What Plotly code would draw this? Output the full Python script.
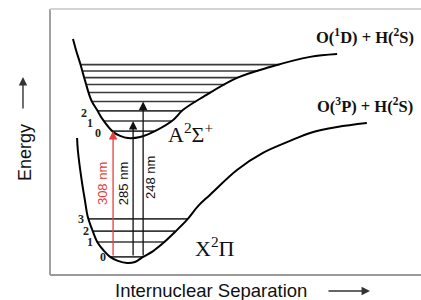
import numpy as np
import plotly.graph_objects as go

# ---- data (arbitrary units: separation 0-10, energy 0-10) ----
a_state_r = [0.62, 0.70, 0.81, 0.94, 1.11, 1.27, 1.43, 1.70, 1.89, 2.10, 2.43, 2.88, 3.32, 3.58, 4.12, 5.04, 5.93, 7.01, 7.74]
a_state_e = [8.87, 8.46, 7.97, 7.33, 6.58, 6.20, 5.83, 5.38, 5.23, 5.15, 5.19, 5.45, 5.83, 6.20, 6.69, 7.41, 7.82, 8.20, 8.31]

x_state_r = [0.73, 0.75, 0.86, 0.94, 1.02, 1.16, 1.29, 1.46, 1.62, 1.83, 2.08, 2.29, 2.51, 2.78, 3.05, 3.37, 3.69, 3.99, 4.31, 5.04, 5.74, 6.47, 7.01, 7.74, 8.54]
x_state_e = [5.15, 4.70, 3.50, 2.82, 2.18, 1.62, 1.20, 0.90, 0.68, 0.53, 0.45, 0.49, 0.68, 0.90, 1.20, 1.62, 2.07, 2.59, 3.01, 3.95, 4.59, 5.04, 5.34, 5.56, 5.71]

a_levels = [5.41, 5.79, 6.17, 6.52, 6.86, 7.16, 7.42, 7.67, 7.91]
x_levels = [0.68, 1.24, 1.65, 2.11]
a_level_labels = ["0", "1", "2"]
x_level_labels = ["0", "1", "2", "3"]

transition_labels = ["308 nm", "285 nm", "248 nm"]
transition_r = [1.70, 2.24, 2.51]
transition_upper_v = [0, 1, 3]
transition_colors = ["#e5403a", "#111111", "#111111"]

a_state_label = "A<sup>2</sup>Σ<sup>+</sup>"
x_state_label = "X<sup>2</sup>Π"
upper_limit_label = "<b>O(<sup>1</sup>D) + H(<sup>2</sup>S)</b>"
lower_limit_label = "<b>O(<sup>3</sup>P) + H(<sup>2</sup>S)</b>"


def branch_ends(r, e, level):
    r = np.asarray(r, float)
    e = np.asarray(e, float)
    i = int(np.argmin(e))
    left = np.interp(level, e[:i + 1][::-1], r[:i + 1][::-1])
    right = np.interp(level, e[i:], r[i:])
    return left, right


def level_segments(r, e, levels):
    xs, ys = [], []
    for lv in levels:
        l, rr = branch_ends(r, e, lv)
        xs += [l, rr, None]
        ys += [lv, lv, None]
    return xs, ys


fig = go.Figure()

ax_, ay_ = level_segments(a_state_r, a_state_e, a_levels)
fig.add_trace(go.Scatter(x=ax_, y=ay_, mode="lines", line=dict(color="#3a3a3a", width=1.6),
                         hoverinfo="skip", showlegend=False, cliponaxis=False))
xx_, xy_ = level_segments(x_state_r, x_state_e, x_levels)
fig.add_trace(go.Scatter(x=xx_, y=xy_, mode="lines", line=dict(color="#3a3a3a", width=1.6),
                         hoverinfo="skip", showlegend=False, cliponaxis=False))

fig.add_trace(go.Scatter(x=a_state_r, y=a_state_e, mode="lines", line=dict(color="black", width=2, shape="spline"),
                         hoverinfo="skip", showlegend=False, cliponaxis=False))
fig.add_trace(go.Scatter(x=x_state_r, y=x_state_e, mode="lines", line=dict(color="black", width=2, shape="spline"),
                         hoverinfo="skip", showlegend=False, cliponaxis=False))

annotations = []
# transition arrows
label_shift = [-11, -10, 8]
label_y = [3.42, 3.42, 3.65]
for lab, r, v, c, sh, ly in zip(transition_labels, transition_r, transition_upper_v, transition_colors, label_shift, label_y):
    annotations.append(dict(x=r, y=a_levels[v], ax=r, ay=x_levels[0], xref="x", yref="y", axref="x", ayref="y",
                            showarrow=True, arrowhead=2, arrowsize=1.3, arrowwidth=1.3, arrowcolor=c, text="",
                            standoff=0, startstandoff=0))
    annotations.append(dict(x=r, y=ly, xref="x", yref="y", text=lab, showarrow=False, textangle=-90,
                            xanchor="center", yanchor="middle",
                            xshift=sh, font=dict(family="Liberation Sans, Arial", size=13, color=c)))

# vibrational level labels
for lab, lv in zip(a_level_labels, a_levels):
    l, _ = branch_ends(a_state_r, a_state_e, lv)
    annotations.append(dict(x=l, y=lv, xref="x", yref="y", text="<b>" + lab + "</b>", showarrow=False,
                            xanchor="right", yanchor="middle", xshift=-9, yshift=-2,
                            font=dict(family="Liberation Serif", size=12, color="#222")))
for lab, lv in zip(x_level_labels, x_levels):
    l, _ = branch_ends(x_state_r, x_state_e, lv)
    annotations.append(dict(x=l, y=lv, xref="x", yref="y", text="<b>" + lab + "</b>", showarrow=False,
                            xanchor="right", yanchor="middle", xshift=-2,
                            font=dict(family="Liberation Serif", size=12, color="#222")))

# state labels
annotations.append(dict(x=3.13, y=5.35, xref="x", yref="y", text=a_state_label, showarrow=False, xanchor="left",
                        yanchor="middle", font=dict(family="Liberation Serif", size=22, color="#111")))
annotations.append(dict(x=3.85, y=1.05, xref="x", yref="y", text=x_state_label, showarrow=False, xanchor="left",
                        yanchor="middle", font=dict(family="Liberation Serif", size=22, color="#111")))
annotations.append(dict(x=8.50, y=8.95, xref="x", yref="y", text=upper_limit_label, showarrow=False,
                        xanchor="center", yanchor="middle",
                        font=dict(family="Liberation Serif", size=16.5, color="#111")))
annotations.append(dict(x=8.49, y=6.39, xref="x", yref="y", text=lower_limit_label, showarrow=False,
                        xanchor="center", yanchor="middle",
                        font=dict(family="Liberation Serif", size=16.5, color="#111")))

# axis titles with arrows
annotations.append(dict(x=-0.0674, y=0.462, xref="paper", yref="paper", text="Energy", textangle=-90,
                        xanchor="center", yanchor="middle",
                        showarrow=False, font=dict(family="Liberation Sans, Arial", size=18, color="#111")))
annotations.append(dict(x=-0.0728, y=0.744, xref="paper", yref="paper", text="", showarrow=True,
                        ax=0, ay=33, arrowhead=2, arrowsize=1.2, arrowwidth=1.4, arrowcolor="#333"))
annotations.append(dict(x=0.434, y=-0.058, xref="paper", yref="paper", text="Internuclear Separation",
                        xanchor="center", yanchor="middle",
                        showarrow=False, font=dict(family="Liberation Sans, Arial", size=18.5, color="#111")))
annotations.append(dict(x=0.8625, y=-0.060, xref="paper", yref="paper", text="", showarrow=True,
                        ax=-43, ay=0, arrowhead=2, arrowsize=1.2, arrowwidth=1.4, arrowcolor="#333"))

shapes = [
    dict(type="line", xref="paper", yref="paper", x0=0, x1=0, y0=0, y1=1, line=dict(color="#8a8a8a", width=1.6)),
    dict(type="line", xref="paper", yref="paper", x0=0, x1=1, y0=1, y1=1, line=dict(color="#d4d4d4", width=2)),
    dict(type="line", xref="paper", yref="paper", x0=0, x1=1, y0=0, y1=0, line=dict(color="#9a9a9a", width=2)),
]

fig.update_layout(
    width=421, height=300,
    margin=dict(l=50, r=0, t=9, b=25),
    paper_bgcolor="white", plot_bgcolor="white",
    xaxis=dict(range=[0, 10], visible=False, fixedrange=True),
    yaxis=dict(range=[0, 10], visible=False, fixedrange=True),
    annotations=annotations, shapes=shapes,
)

fig.write_html("out.html", config={"displayModeBar": False},
               post_script="document.body.style.margin='0';document.body.style.overflow='hidden';")
